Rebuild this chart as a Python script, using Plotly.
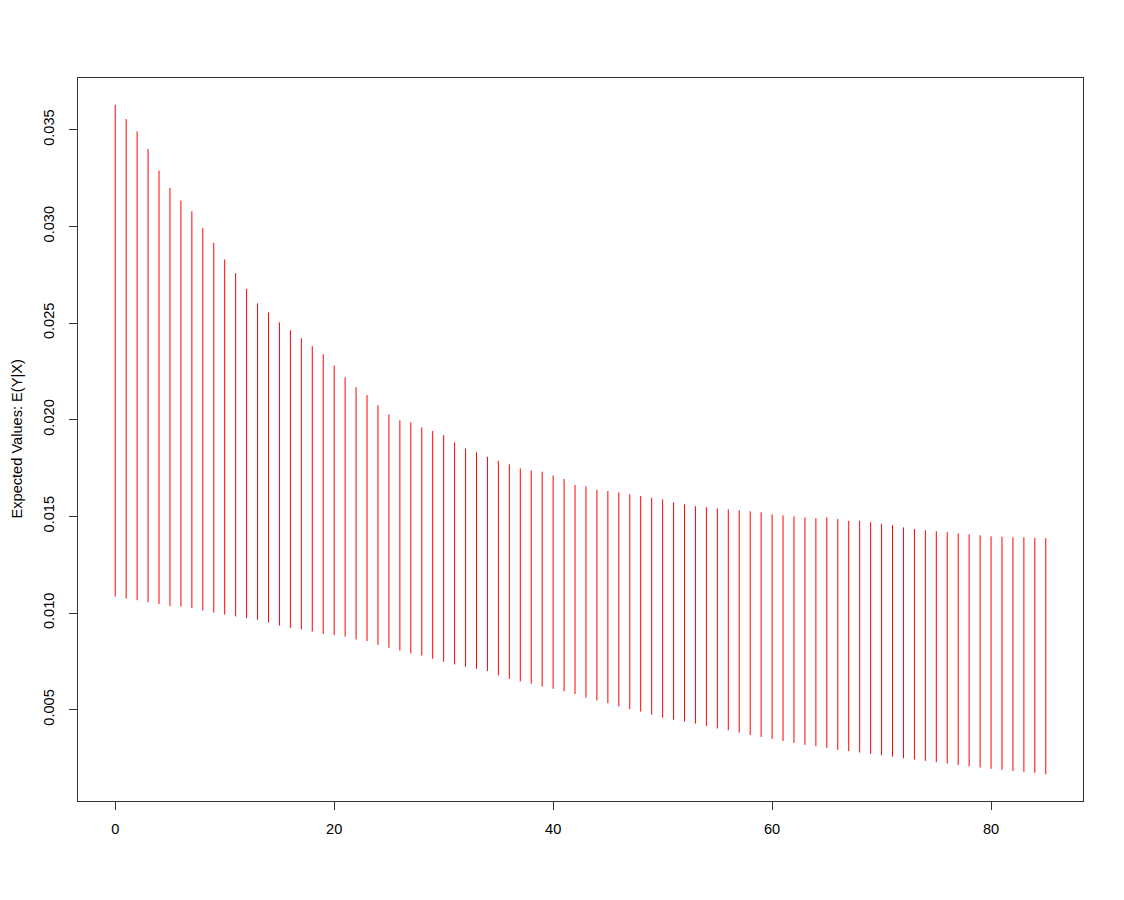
import plotly.graph_objects as go

x_vals = list(range(0, 86))

upper = [0.03629, 0.03555, 0.03491, 0.03400, 0.03288, 0.03199, 0.03133, 0.03078, 0.02992, 0.02915,
         0.02829, 0.02758, 0.02677, 0.02602, 0.02555, 0.02503, 0.02462, 0.02421, 0.02380, 0.02338,
         0.02280, 0.02219, 0.02168, 0.02127, 0.02075, 0.02027, 0.01997, 0.01986, 0.01960, 0.01942,
         0.01920, 0.01882, 0.01851, 0.01831, 0.01808, 0.01787, 0.01769, 0.01748, 0.01737, 0.01731,
         0.01711, 0.01693, 0.01663, 0.01655, 0.01637, 0.01631, 0.01624, 0.01614, 0.01605, 0.01596,
         0.01588, 0.01572, 0.01562, 0.01552, 0.01547, 0.01541, 0.01536, 0.01531, 0.01526, 0.01521,
         0.01510, 0.01505, 0.01500, 0.01495, 0.01491, 0.01495, 0.01486, 0.01477, 0.01477, 0.01469,
         0.01462, 0.01454, 0.01443, 0.01435, 0.01428, 0.01423, 0.01418, 0.01412, 0.01407, 0.01402,
         0.01397, 0.01395, 0.01392, 0.01392, 0.01388, 0.01387]

lower = [0.01085, 0.01075, 0.01066, 0.01056, 0.01046, 0.01035, 0.01033, 0.01025, 0.01013, 0.01002,
         0.00992, 0.00982, 0.00973, 0.00965, 0.00951, 0.00935, 0.00923, 0.00915, 0.00904, 0.00892,
         0.00886, 0.00878, 0.00863, 0.00855, 0.00836, 0.00820, 0.00806, 0.00791, 0.00780, 0.00763,
         0.00748, 0.00734, 0.00722, 0.00712, 0.00700, 0.00677, 0.00659, 0.00646, 0.00634, 0.00620,
         0.00608, 0.00595, 0.00581, 0.00562, 0.00548, 0.00533, 0.00517, 0.00502, 0.00490, 0.00474,
         0.00459, 0.00448, 0.00438, 0.00428, 0.00416, 0.00403, 0.00393, 0.00381, 0.00369, 0.00359,
         0.00349, 0.00338, 0.00328, 0.00318, 0.00311, 0.00302, 0.00292, 0.00285, 0.00278, 0.00271,
         0.00264, 0.00257, 0.00249, 0.00242, 0.00235, 0.00228, 0.00221, 0.00214, 0.00207, 0.00201,
         0.00194, 0.00189, 0.00183, 0.00178, 0.00173, 0.00166]

x_ticks = [0, 20, 40, 60, 80]
y_ticks = [0.005, 0.010, 0.015, 0.020, 0.025, 0.030, 0.035]
y_ticktext = ["0.005", "0.010", "0.015", "0.020", "0.025", "0.030", "0.035"]
y_title = "Expected Values: E(Y|X)"

seg_x, seg_y = [], []
for xv, lo, hi in zip(x_vals, lower, upper):
    seg_x += [xv, xv, None]
    seg_y += [lo, hi, None]

fig = go.Figure()
fig.add_trace(go.Scatter(x=seg_x, y=seg_y, mode="lines",
                         line=dict(color="#ff0000", width=1),
                         hoverinfo="skip", showlegend=False))

xpad = 0.04 * (max(x_vals) - min(x_vals))
ymin, ymax = min(lower), max(upper)
ypad = 0.04 * (ymax - ymin)

font = dict(family="Liberation Sans, Arial, sans-serif", size=14.6, color="black")

fig.update_layout(
    width=1108, height=884,
    margin=dict(l=70, r=33, t=70, b=91),
    paper_bgcolor="white", plot_bgcolor="white",
    font=font,
    showlegend=False,
    xaxis=dict(range=[min(x_vals) - xpad, max(x_vals) + xpad],
               tickvals=x_ticks, ticks="outside", ticklen=8, tickcolor="#333333",
               showline=True, linecolor="#333333", linewidth=1, mirror=True,
               showgrid=False, zeroline=False, tickfont=font,
               ticklabelstandoff=6),
    yaxis=dict(range=[ymin - ypad, ymax + ypad],
               tickvals=y_ticks, ticktext=y_ticktext, tickangle=-90,
               ticks="outside", ticklen=8, tickcolor="#333333",
               showline=True, linecolor="#333333", linewidth=1, mirror=True,
               showgrid=False, zeroline=False, tickfont=font,
               ticklabelstandoff=9),
    annotations=[dict(text=y_title, xref="paper", yref="paper",
                      x=(16 - 78) / 1005, y=0.5, xanchor="center", yanchor="middle",
                      textangle=-90, showarrow=False, font=font)],
)

fig.write_html("out.html")
